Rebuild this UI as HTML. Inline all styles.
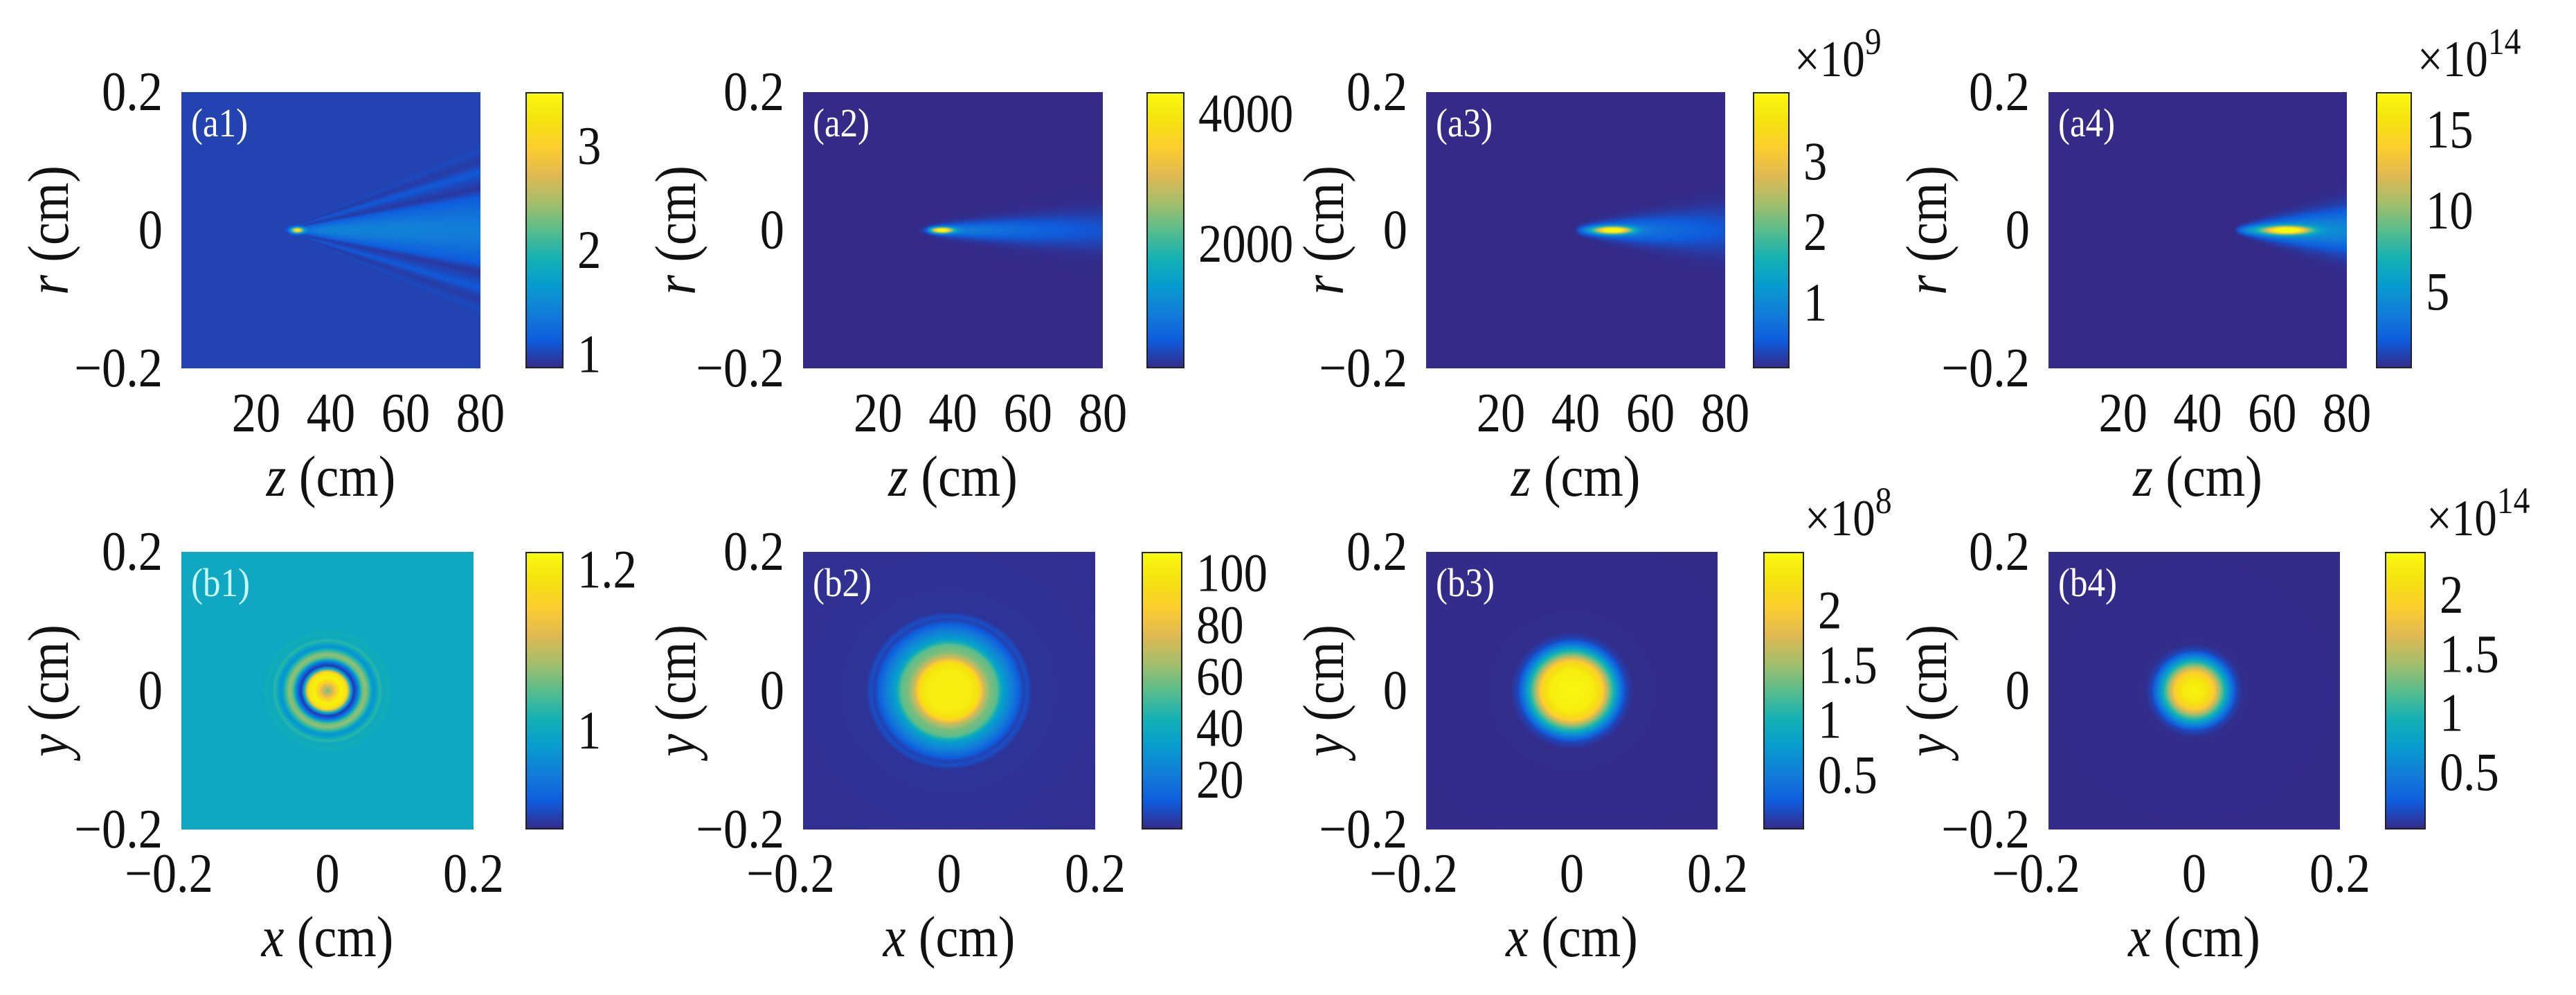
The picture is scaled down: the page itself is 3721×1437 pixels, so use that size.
<!DOCTYPE html>
<html><head><meta charset="utf-8">
<style>
html,body{margin:0;padding:0;background:#fff;}
#root{position:relative;width:3721px;height:1437px;overflow:hidden;background:#fff;}
canvas{position:absolute;display:block;}
svg{position:absolute;left:0;top:0;}
svg text{font-family:"Liberation Serif","Times New Roman",serif;fill:#111;}
</style></head>
<body>
<div id="root">
<svg id="ov" width="3721" height="1437" font-family="Liberation Serif, serif"></svg>
</div>
<script>
// ---------- data ----------
const cbMin = [0.87, 96, 0.08, 0.3, 0.878, 1, 0.006, 0.018];
const cbMax = [3.52, 4340, 3.99, 17.35, 1.223, 108.5, 2.54, 2.37];
const cbTicks = [[1,2,3],[2000,4000],[1,2,3],[5,10,15],[1,1.2],[20,40,60,80,100],[0.5,1,1.5,2],[0.5,1,1.5,2]];
const cbTickLabels = [["1","2","3"],["2000","4000"],["1","2","3"],["5","10","15"],["1","1.2"],["20","40","60","80","100"],["0.5","1","1.5","2"],["0.5","1","1.5","2"]];
const cbExponent = ["","","9","14","","","8","14"];
const panelLabels = ["(a1)","(a2)","(a3)","(a4)","(b1)","(b2)","(b3)","(b4)"];
const zTicks = [20,40,60,80];
const rTicks = [0.2,0,-0.2];
const rTickLabels = ["0.2","0","\u22120.2"];
const xTicks = [-0.2,0,0.2];
const xTickLabels = ["\u22120.2","0","0.2"];
const aBase = [1.0, 100, 0.08, 0.3];
const aPeakZ = [31, 37, 50, 64];
const aPeakVal = [2.45, 4150, 3.85, 16.8];
const aPeakLenZ = [1.6, 2.8, 4.5, 5.5];
const aPeakWidR = [0.004, 0.004, 0.005, 0.0055];
const aTailStartZ = [31, 33, 40, 50];
const aTailAmp = [0.5, 1100, 1.3, 6.5];
const aTailDecay = [200, 40, 30, 60];
const aTailW0 = [0.004, 0.006, 0.005, 0.004];
const aTailSpread = [0.0009, 0.00045, 0.0007, 0.0009];
const bRho = [
 [0,0.008,0.018,0.026,0.031,0.036,0.041,0.047,0.052,0.058,0.063,0.067,0.072,0.077,0.082,0.09,0.3],
 [0,0.03,0.04,0.048,0.056,0.066,0.073,0.085,0.095,0.102,0.107,0.114,0.3],
 [0,0.03,0.042,0.05,0.058,0.066,0.074,0.085,0.3],
 [0,0.015,0.027,0.035,0.043,0.05,0.058,0.068,0.3]];
const bVal = [
 [1.06,1.12,1.21,1.19,1.03,0.885,0.93,1.05,1.08,1.03,0.97,0.99,1.03,1.0,1.01,1.0,1.0],
 [104,102,96,72,60,55,36,24,14,6,9,3,2],
 [2.5,2.4,2.1,1.5,1.0,0.5,0.15,0.02,0.01],
 [2.3,2.2,1.9,1.4,0.9,0.5,0.15,0.03,0.02]];

// ---------- layout ----------
const aX = [[262,694],[1160,1593],[2060,2492],[2959,3390]];
const aCB = [[759,814],[1656,1711],[2532,2585],[3432,3484]];
const bX = [[262,684],[1160,1582],[2060,2481],[2959,3380]];
const bCB = [[759,814],[1649,1708],[2547,2606],[3445,3504]];
const yLabOff = [189,181,145,173];
const aY=[133,532], bY=[797,1198];
const FONT='Liberation Serif, Times New Roman, serif';
const SX=0.88;

const parula=[[53,42,135],[15,92,221],[18,125,216],[7,156,207],[21,177,180],[89,189,140],[165,190,107],[225,185,82],[252,206,46],[245,227,15],[249,251,14]];
function cmap(t){t=Math.max(0,Math.min(1,t));const f=t*10,i=Math.min(9,Math.floor(f)),u=f-i;const a=parula[i],b=parula[i+1];return [a[0]+(b[0]-a[0])*u,a[1]+(b[1]-a[1])*u,a[2]+(b[2]-a[2])*u];}
function interp(xs,ys,x){if(x<=xs[0])return ys[0];for(let i=1;i<xs.length;i++){if(x<=xs[i]){const u=(x-xs[i-1])/(xs[i]-xs[i-1]);return ys[i-1]+(ys[i]-ys[i-1])*u;}}return ys[ys.length-1];}
function aField(k,z,r){
  let v=aBase[k];
  v+=aPeakVal[k]*Math.exp(-Math.pow((z-aPeakZ[k])/aPeakLenZ[k],2)-Math.pow(r/aPeakWidR[k],2));
  const s=z-aTailStartZ[k];
  if(s>0 && z<=80){
    const w=aTailW0[k]+aTailSpread[k]*s;
    const ramp=1-Math.exp(-s/3);
    const amp=aTailAmp[k]*ramp*Math.exp(-s/aTailDecay[k]);
    v+=amp*Math.exp(-Math.pow(r/w,2));
    if(k===0){
      const ar=Math.abs(r);
      v-=0.13*ramp*Math.exp(-Math.pow((ar-1.25*w)/(0.18*w),2));
      v+=0.1*ramp*Math.exp(-Math.pow((ar-1.75*w)/(0.14*w),2));
      v-=0.04*ramp*Math.exp(-Math.pow((ar-2.1*w)/(0.1*w),2));
      v+=0.04*ramp*Math.exp(-Math.pow((ar-2.4*w)/(0.1*w),2));
    }
  }
  return v;
}
const root=document.getElementById('root');
const ov=document.getElementById('ov');
const NS='http://www.w3.org/2000/svg';
function mk(tag,attrs,txt){const e=document.createElementNS(NS,tag);for(const k in attrs)e.setAttribute(k,attrs[k]);if(txt!==undefined)e.textContent=txt;ov.appendChild(e);return e;}
// text placed at (x,y) with horizontal compression; rot optional
function mkText(x,y,size,anchor,txt,rot){
  const e=document.createElementNS(NS,'text');
  e.setAttribute('x',0);e.setAttribute('y',0);
  e.setAttribute('font-size',size);e.setAttribute('font-family',FONT);
  if(anchor)e.setAttribute('text-anchor',anchor);
  e.setAttribute('transform','translate('+x+' '+y+')'+(rot?' rotate('+rot+')':'')+' scale('+SX+' 1)');
  if(txt!==undefined)e.textContent=txt;
  ov.appendChild(e);return e;
}
function mkCanvas(x0,y0,w,h,name){const c=document.createElement('canvas');c.width=w;c.height=h;c.style.left=x0+'px';c.style.top=y0+'px';


root.insertBefore(c,ov);return c;}

function drawPanel(k,col,px,py,cb,isA){
  const w=px[1]-px[0],h=py[1]-py[0];
  const c=mkCanvas(px[0],py[0],w,h,panelLabels[k].replace(/[()]/g,'')+'-heatmap');
  const ctx=c.getContext('2d');const img=ctx.createImageData(w,h);const d=img.data;
  const lo=cbMin[k],hi=cbMax[k];
  for(let j=0;j<h;j++){
    const yv=0.2-(j+0.5)/h*0.4;
    for(let i=0;i<w;i++){
      let v;
      if(isA){const z=(i+0.5)/w*80;v=aField(k,z,yv);}
      else{const xv=-0.2+(i+0.5)/w*0.4;const rho=Math.sqrt(xv*xv+yv*yv);v=interp(bRho[k-4],bVal[k-4],rho);}
      const cl=cmap((v-lo)/(hi-lo));const p=(j*w+i)*4;d[p]=cl[0];d[p+1]=cl[1];d[p+2]=cl[2];d[p+3]=255;
    }
  }
  ctx.putImageData(img,0,0);
  const cw=cb[1]-cb[0];
  const cc=mkCanvas(cb[0],py[0],cw,h,panelLabels[k].replace(/[()]/g,'')+'-colorbar');
  const cx=cc.getContext('2d');
  for(let j=0;j<h;j++){const cl=cmap(1-(j+0.5)/h);cx.fillStyle='rgb('+cl.map(Math.round).join(',')+')';cx.fillRect(0,j,cw,1);}
  mk('rect',{x:cb[0]+1,y:py[0]+1,width:cw-2,height:h-2,fill:'none',stroke:'#222','stroke-width':2,});
  cbTicks[k].forEach((t,ti)=>{
    const ty=py[1]-(t-lo)/(hi-lo)*h;
    const e=mkText(cb[1]+20,ty+25,78,null,cbTickLabels[k][ti]);
    
    
  });
  if(cbExponent[k]){
    const ey=isA?110:773;
    const e=mkText(cb[0]+60,ey,74,null);
    
    
    e.textContent='\u00d710';
    const s=document.createElementNS(NS,'tspan');s.setAttribute('dy',-32);s.setAttribute('font-size',54);s.textContent=cbExponent[k];e.appendChild(s);
  }
  const pl=mkText(px[0]+14,py[0]+64,58,null,panelLabels[k]);
  pl.setAttribute('style','fill:'+(k===4?'#c8ffff':'#ffffff'));
  
  
  rTicks.forEach((t,ti)=>{
    const ty=py[0]+(0.2-t)/0.4*h;
    const e=mkText(px[0]-27,ty+26,80,'end',rTickLabels[ti]);
    
    
  });
  const xb=isA?623:1288;
  if(isA){
    zTicks.forEach(t=>{const tx=px[0]+t/80*w;
      const e=mkText(tx,xb,80,'middle',String(t));
      
      });
  } else {
    xTicks.forEach((t,ti)=>{const tx=px[0]+(t+0.2)/0.4*w-(t<0?18:0);
      const e=mkText(tx,xb,80,'middle',xTickLabels[ti]);
      
      });
  }
  const cxm=(px[0]+px[1])/2;
  const xl=mkText(cxm,isA?716:1381,84,'middle');
  
  
  const it=document.createElementNS(NS,'tspan');it.setAttribute('font-style','italic');it.textContent=isA?'z':'x';xl.appendChild(it);
  xl.appendChild(document.createTextNode(' (cm)'));
  const ycx=px[0]-yLabOff[col],ycy=(py[0]+py[1])/2;
  const yl=mkText(ycx+25,ycy,84,'middle',undefined,-90);
  
  
  const it2=document.createElementNS(NS,'tspan');it2.setAttribute('font-style','italic');it2.textContent=isA?'r':'y';yl.appendChild(it2);
  yl.appendChild(document.createTextNode(' (cm)'));
}
for(let k=0;k<4;k++)drawPanel(k,k,aX[k],aY,aCB[k],true);
for(let k=0;k<4;k++)drawPanel(k+4,k,bX[k],bY,bCB[k],false);
</script>
</body></html>
